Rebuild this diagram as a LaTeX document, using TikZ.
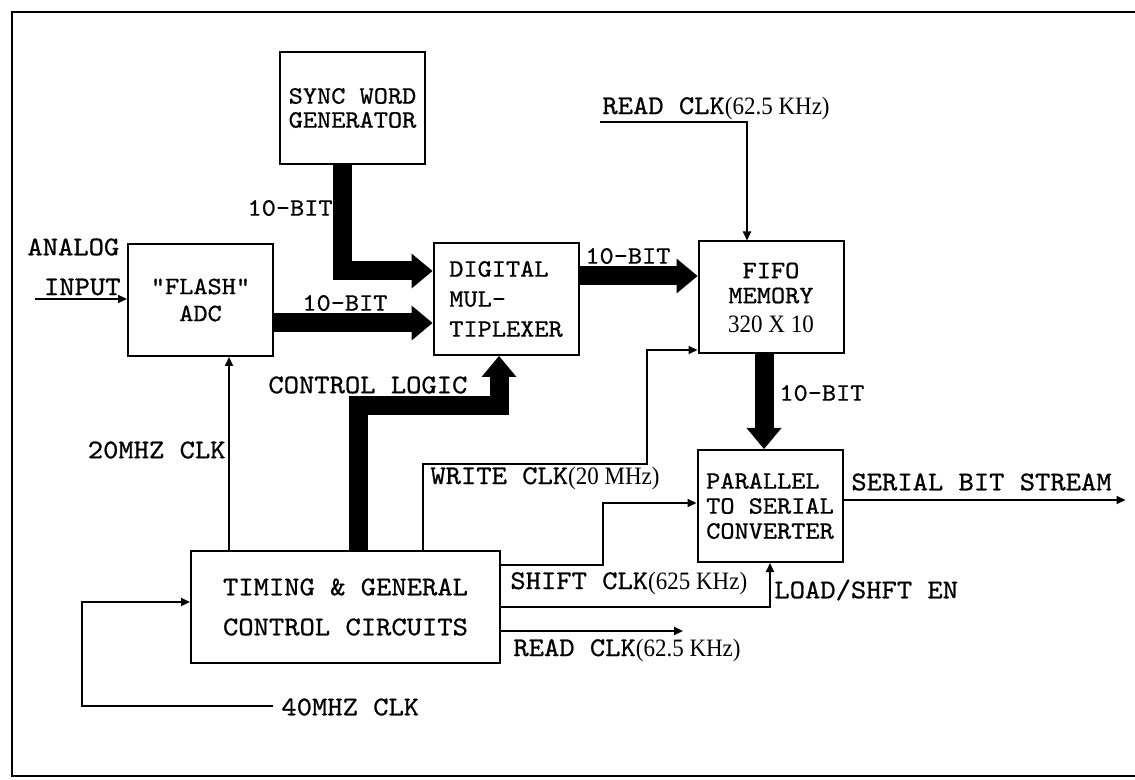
\documentclass[tikz,border=0pt]{standalone}
\usepackage{fontspec}
\setmonofont{lmmono10-regular.otf}[FakeStretch=1.08, FakeBold=0.8]
\newfontfamily\hzfont{Liberation Serif}[FakeStretch=0.92]
\usetikzlibrary{arrows.meta}
\newcommand{\hzpart}[1]{{\hzfont\fontsize{12.5}{12}\selectfont #1}}
\tikzset{
  framerule/.style = {draw=black, line width=1.2pt, line join=miter},
  blockbox/.style  = {draw=black, line width=1pt, minimum width=72.5pt,
                      minimum height=56pt, inner sep=0pt,
                      font=\ttfamily\fontsize{12.5}{12.5}\selectfont},
  busarrow/.style  = {draw=black, line width=9.5pt, line join=miter,
                      -{Triangle[length=10.5pt, width=17.5pt, line width=0pt]}},
  sigline/.style   = {draw=black, line width=0.9pt,
                      -{Triangle[length=4.5pt, width=4pt]}},
  siglabel/.style  = {font=\ttfamily\fontsize{13.5}{15}\selectfont, inner sep=0pt},
  bitlabel/.style  = {font=\ttfamily\fontsize{12.5}{14}\selectfont, inner sep=0pt},
}
\begin{document}
\begin{tikzpicture}[x=0.5pt, y=-0.5pt]
  \useasboundingbox (0,0) rectangle (1135,780);
  \draw[framerule] (1135,12) -- (12,12) -- (12,776) -- (1135,776);
  % blocks
  \node[blockbox, align=center] (sync) at (352.5,108) {SYNC WORD\\[-0.5pt]GENERATOR};
  \node[blockbox, align=center] (adc)  at (200.5,300) {"FLASH"\\[1pt]ADC};
  \node[blockbox, align=left]   (mux)  at (506,299)   {DIGITAL\\[2.5pt]MUL-\\[2.5pt]TIPLEXER};
  \node[blockbox, align=center] (fifo) at (771,297.5) {FIFO\\MEMORY\\[2pt]\hzpart{320 X 10}};
  \node[blockbox, align=left]   (pts)  at (770,506)   {PARALLEL\\TO SERIAL\\CONVERTER};
  \node[blockbox, align=left, minimum width=154.5pt,
        font=\ttfamily\fontsize{13.5}{13}\selectfont] (tim) at (345.5,607)
        {TIMING \& GENERAL\\[7pt]CONTROL CIRCUITS};
  % 10-bit buses
  \draw[busarrow] ([xshift=-5pt]sync.south) |- ([yshift=14pt]mux.west);
  \coordinate (a2m) at ([yshift=-11.5pt]adc.east);
  \draw[busarrow] (a2m) -- (a2m -| mux.west);
  \coordinate (m2f) at ([yshift=11.5pt]mux.east);
  \draw[busarrow] (m2f) -- (m2f -| fifo.west);
  \coordinate (f2p) at ([xshift=-3.5pt]fifo.south);
  \draw[busarrow] (f2p) -- (f2p |- pts.north);
  \coordinate (t2m) at ([xshift=84pt]tim.north west);
  \draw[busarrow] (t2m) -- ++(0,-144) -| ([xshift=-3.5pt]mux.south);
  % clocks and signals
  \coordinate (ain) at (35,299);
  \draw[sigline] (ain) -- (ain -| adc.west);
  \coordinate (t20) at ([xshift=19.5pt]tim.north west);
  \draw[sigline] (t20) -- (t20 |- adc.south);
  \coordinate (c40) at (273,706);
  \draw[sigline] (c40) -- ++(-191,0) |- ([yshift=2.5pt]tim.west);
  \coordinate (rdin) at (600,122);
  \draw[sigline] (rdin) -| ([xshift=-12pt]fifo.north);
  \coordinate (wrt) at ([xshift=116.5pt]tim.north west);
  \coordinate (wrf) at ([yshift=-26.25pt]fifo.west);
  \draw[sigline] (wrt) -- ++(0,-86) -- ++(224,0) |- (wrf);
  \coordinate (sht) at ([yshift=21pt]tim.east);
  \draw[sigline] (sht) -- ++(102,0) |- ([yshift=1.5pt]pts.west);
  \draw[sigline] (tim.east) -| (pts.south);
  \coordinate (rdo) at ([yshift=-12pt]tim.east);
  \draw[sigline] (rdo) -- ++(182,0);
  \coordinate (ser) at ([yshift=3pt]pts.east);
  \draw[sigline] (ser) -- ++(282,0);
  % labels
  \node[siglabel, anchor=west] (lanalog) at (27,247)  {ANALOG};
  \node[siglabel, anchor=east] (linput)  at (121,287) {INPUT};
  \node[siglabel, anchor=east] (l20)     at (226,450) {20MHZ CLK};
  \node[siglabel, anchor=west] (l40)     at (281,707) {40MHZ CLK};
  \node[bitlabel, anchor=east] (bsync)   at (333,208) {10–BIT};
  \node[bitlabel, anchor=west] (badc)    at (302,303) {10–BIT};
  \node[bitlabel, anchor=west] (bmux)    at (585,256) {10–BIT};
  \node[bitlabel, anchor=west] (bfifo)   at (779,393) {10–BIT};
  \node[siglabel, anchor=west] (lctrl)   at (268,385) {CONTROL LOGIC};
  \node[siglabel, anchor=west] (lrdtop)  at (602,108) {READ CLK\hzpart{(62.5 KHz)}};
  \node[siglabel, anchor=west] (lwr)     at (430,478) {WRITE CLK\hzpart{(20 MHz)}};
  \node[siglabel, anchor=west] (lsh)     at (510,583) {SHIFT CLK\hzpart{(625 KHz)}};
  \node[siglabel, anchor=west] (lld)     at (774,590) {LOAD/SHFT EN};
  \node[siglabel, anchor=west] (lrdbot)  at (513,650) {READ CLK\hzpart{(62.5 KHz)}};
  \node[siglabel, anchor=west] (lser)    at (851,482) {SERIAL BIT STREAM};
\end{tikzpicture}
\end{document}
